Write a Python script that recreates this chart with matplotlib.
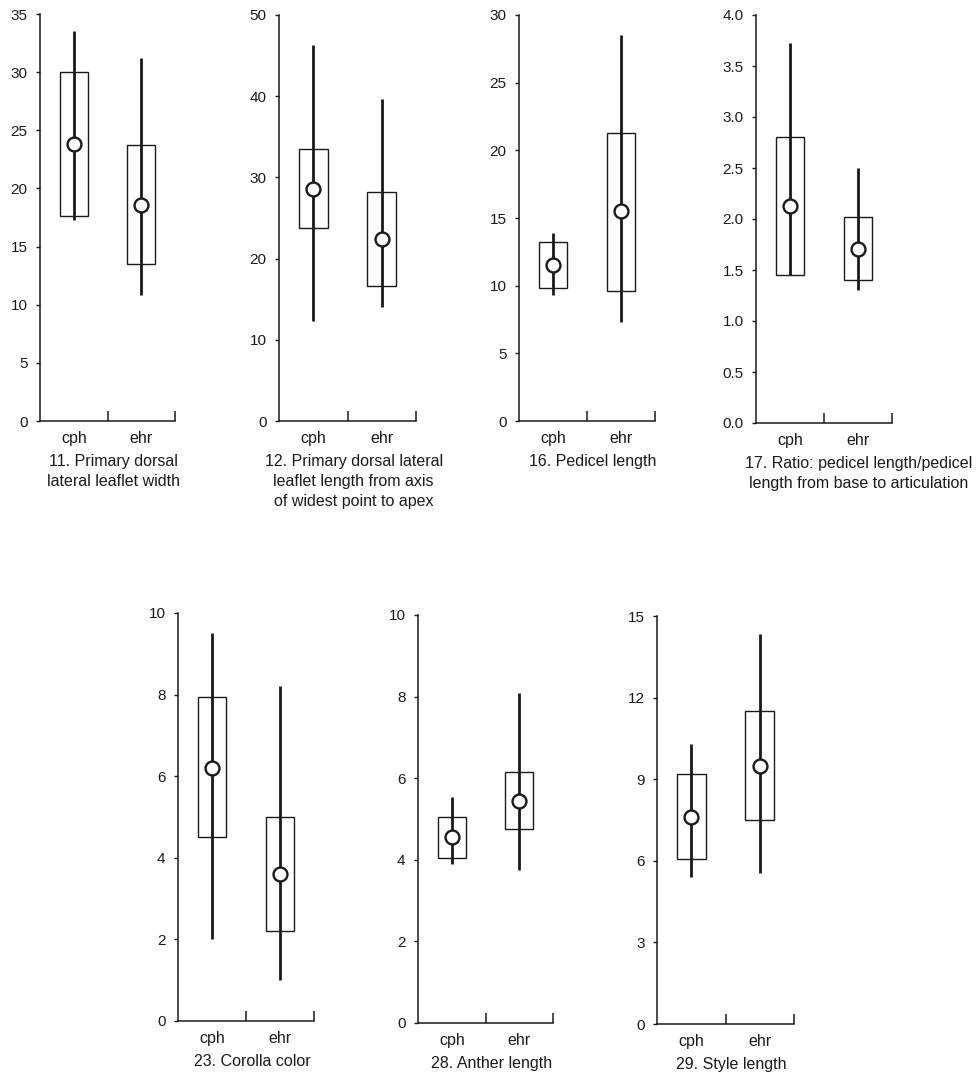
import numpy as np
import matplotlib
matplotlib.use("Agg")
import matplotlib.pyplot as plt
from matplotlib.ticker import FormatStrFormatter

plt.rcParams["font.family"] = ["Liberation Sans", "DejaVu Sans"]

groups = ["cph", "ehr"]

captions = [
    "11. Primary dorsal\nlateral leaflet width",
    "12. Primary dorsal lateral\nleaflet length from axis\nof widest point to apex",
    "16. Pedicel length",
    "17. Ratio: pedicel length/pedicel\nlength from base to articulation",
    "23. Corolla color",
    "28. Anther length",
    "29. Style length",
]

y_max = [35, 50, 30, 4.0, 10, 10, 15]
y_step = [5, 10, 5, 0.5, 2, 2, 3]

# per panel: [cph, ehr]
whisker_lo = [[17.3, 10.8], [12.3, 14.0], [9.3, 7.3], [1.45, 1.30], [2.0, 1.0], [3.9, 3.75], [5.4, 5.55]]
whisker_hi = [[33.5, 31.2], [46.3, 39.6], [13.9, 28.5], [3.73, 2.50], [9.5, 8.2], [5.55, 8.1], [10.3, 14.35]]
box_lo = [[17.6, 13.5], [23.8, 16.6], [9.8, 9.6], [1.45, 1.40], [4.5, 2.2], [4.05, 4.75], [6.05, 7.5]]
box_hi = [[30.0, 23.7], [33.5, 28.2], [13.2, 21.3], [2.80, 2.02], [7.93, 5.0], [5.05, 6.15], [9.2, 11.5]]
means = [[23.8, 18.6], [28.6, 22.4], [11.5, 15.5], [2.13, 1.71], [6.2, 3.6], [4.55, 5.45], [7.6, 9.5]]

# axes boxes in pixels: left, right, top, bottom
W, H = 976, 1079
boxes_px = [
    (40, 175, 14, 421),
    (279, 416, 15, 421),
    (519, 655, 15, 421),
    (756, 892, 15, 423),
    (178, 314, 613, 1021),
    (418, 553, 615, 1023),
    (657, 794, 616, 1024),
]
caption_x = [0.545, 0.545, 0.545, 0.757, 0.545, 0.545, 0.545]

ink = "#1a1a1a"

fig = plt.figure(figsize=(W / 100, H / 100), dpi=100)

for i in range(7):
    l, r, t, b = boxes_px[i]
    ax = fig.add_axes([l / W, 1 - b / H, (r - l) / W, (b - t) / H])

    x = np.array([0.5, 1.5])
    ax.vlines(x, whisker_lo[i], whisker_hi[i], color=ink, lw=2.0, zorder=2)
    heights = np.array(box_hi[i]) - np.array(box_lo[i])
    ax.bar(x, heights, bottom=box_lo[i], width=0.42, fill=False,
           edgecolor=ink, linewidth=1.0, zorder=3)
    ax.plot(x, means[i], "o", ms=10, mfc="white", mec=ink, mew=1.7,
            ls="none", zorder=4)

    ax.set_xlim(0, 2)
    ax.set_ylim(0, y_max[i])
    ax.set_yticks(np.arange(0, y_max[i] + y_step[i] / 2, y_step[i]))
    if i == 3:
        ax.yaxis.set_major_formatter(FormatStrFormatter("%.1f"))

    ax.set_xticks([1, 2])
    ax.set_xticklabels([])
    ax.set_xticks(x, minor=True)
    ax.set_xticklabels(groups, minor=True)
    ax.tick_params(axis="x", which="major", direction="in", length=7,
                   width=1.1, color=ink)
    ax.tick_params(axis="x", which="minor", length=0, pad=7,
                   labelsize=11.5, labelcolor=ink)
    ax.tick_params(axis="y", direction="out", length=3, width=1.0,
                   pad=6, labelsize=11, labelcolor=ink, color=ink)

    for side in ["top", "right"]:
        ax.spines[side].set_visible(False)
    for side in ["left", "bottom"]:
        ax.spines[side].set_color(ink)
        ax.spines[side].set_linewidth(1.1)

    ax.annotate(captions[i], xy=(caption_x[i], 0), xycoords="axes fraction",
                xytext=(0, -24), textcoords="offset points",
                ha="center", va="top", fontsize=11.5, color=ink,
                linespacing=1.4)

fig.savefig("out.png", dpi=100, facecolor="white")
